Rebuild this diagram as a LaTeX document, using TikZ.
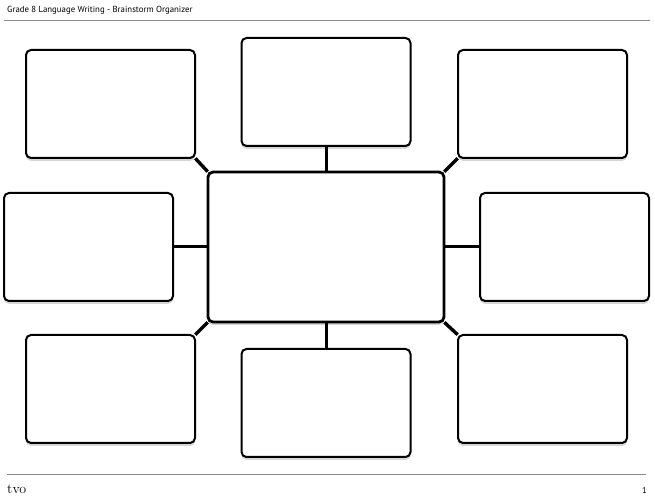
\documentclass[tikz,border=0pt]{standalone}
\usepackage{fontspec}
\setsansfont{PT Sans}
\usetikzlibrary{positioning,shadows}

\begin{document}
\begin{tikzpicture}[
  box/.style={draw, line width=2pt, rounded corners=5pt, fill=white,
    minimum width=169pt, minimum height=108pt, inner sep=0pt, outer sep=0pt,
    drop shadow={shadow xshift=0pt, shadow yshift=-3pt, fill=black!16, opacity=1}},
  mainbox/.style={box, line width=2.8pt, minimum width=236pt, minimum height=150pt},
  link/.style={line width=3pt},
  rule/.style={draw=black!45, line width=1pt}
]
  \useasboundingbox (0,0) rectangle (655pt,500pt);

  % header and footer
  \node[anchor=base west, inner sep=0pt] (title) at (7pt,487pt)
    {\sffamily\fontsize{8.8}{10}\selectfont Grade 8 Language Writing - Brainstorm Organizer};
  \coordinate (h1) at (4pt,479pt);
  \coordinate (h2) at (650pt,479pt);
  \draw[rule] (h1) -- (h2);
  \coordinate (f1) at (7pt,25pt);
  \coordinate (f2) at (646pt,25pt);
  \draw[rule] (f1) -- (f2);
  \node[anchor=base west, inner sep=0pt] (logo) at (7pt,6pt)
    {\fontsize{14}{16}\selectfont tvo};
  \node[anchor=base east, inner sep=0pt] (page) at (647pt,7pt)
    {\sffamily\fontsize{8.5}{10}\selectfont 1};

  % boxes
  \node[mainbox] (main) at (326pt,253pt) {};
  \node[box] (i1) [above left=14pt and 13pt of main] {};
  \node[box] (i2) [above=26pt of main] {};
  \node[box] (i3) [above right=14pt and 14pt of main] {};
  \node[box] (i4) [left=35pt of main] {};
  \node[box] (i5) [right=36pt of main] {};
  \node[box] (i6) [below left=13pt and 13pt of main] {};
  \node[box] (i7) [below=27pt of main] {};
  \node[box] (i8) [below right=13pt and 14pt of main] {};

  % links
  \draw[link, line width=3.4pt, shorten <=0.5pt, shorten >=0.5pt] (i1.south east) -- (main.north west);
  \draw[link, line width=3.4pt, shorten <=0.5pt, shorten >=0.5pt] (i3.south west) -- (main.north east);
  \draw[link, line width=3.4pt, shorten <=0.5pt, shorten >=0.5pt] (i6.north east) -- (main.south west);
  \draw[link, line width=3.4pt, shorten <=0.5pt, shorten >=0.5pt] (i8.north west) -- (main.south east);
  \draw[link] (i2.south) -- (main.north);
  \draw[link] (main.south) -- (i7.north);
  \draw[link] (i4.east) -- (main.west);
  \draw[link] (main.east) -- (i5.west);

\end{tikzpicture}
\end{document}
